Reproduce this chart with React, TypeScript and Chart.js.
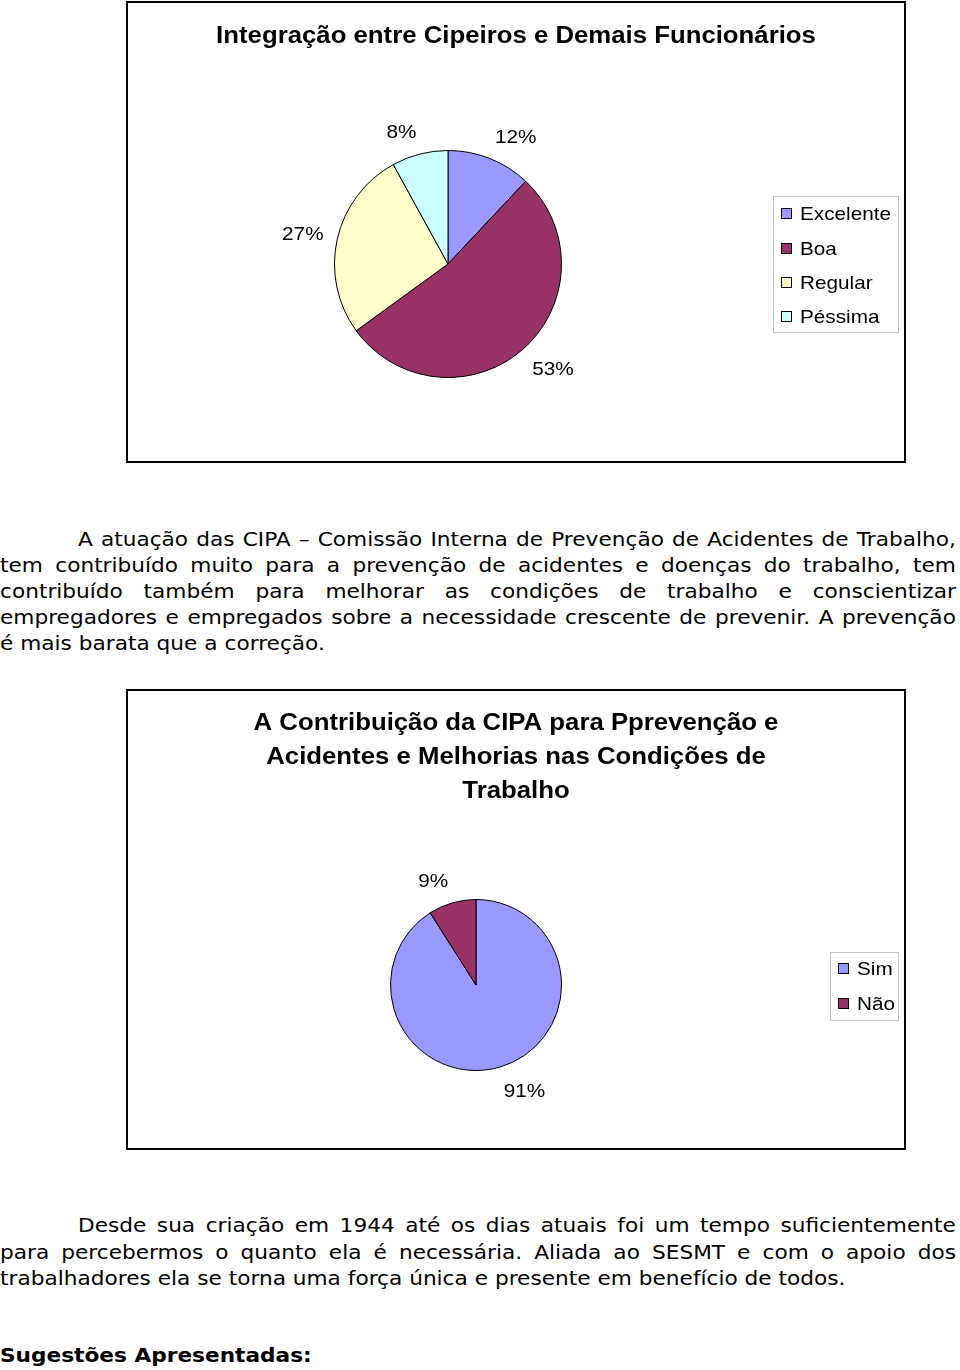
import React, { useEffect, useRef } from "react";
import { Chart, registerables } from "chart.js";

Chart.register(...registerables);

// ---------- data ----------
const chart1Title = ["Integração entre Cipeiros e Demais Funcionários"];
const chart1Labels = ["Excelente", "Boa", "Regular", "Péssima"];
const chart1Values = [12, 53, 27, 8];
const chart1Colors = ["#9999FF", "#993366", "#FFFFCC", "#CCFFFF"];

const chart2Title = [
  "A Contribuição da CIPA para Pprevenção e",
  "Acidentes e Melhorias nas Condições de",
  "Trabalho",
];
const chart2Labels = ["Sim", "Não"];
const chart2Values = [91, 9];
const chart2Colors = ["#9999FF", "#993366"];

const paragraph1 = [
  "A atuação das CIPA – Comissão Interna de Prevenção de Acidentes de Trabalho,",
  "tem contribuído muito para a prevenção de acidentes e doenças do trabalho, tem",
  "contribuído também para melhorar as condições de trabalho e conscientizar",
  "empregadores e empregados sobre a necessidade crescente de prevenir. A prevenção",
  "é mais barata que a correção.",
];
const paragraph2 = [
  "Desde sua criação em 1944 até os dias atuais foi um tempo suficientemente",
  "para percebermos o quanto ela é necessária. Aliada ao SESMT e com o apoio dos",
  "trabalhadores ela se torna uma força única e presente em benefício de todos.",
];
const heading = "Sugestões Apresentadas:";

// ---------- styling ----------
const SX = 1.12; // horizontal stretch of chart texts
const TSX = 1.14; // horizontal stretch of body texts
const ARIAL = '"Liberation Sans", Arial, sans-serif';
const VERDANA = '"DejaVu Sans", Verdana, sans-serif';

function drawStretched(ctx: CanvasRenderingContext2D, text: string, x: number, y: number, align: CanvasTextAlign) {
  ctx.save();
  ctx.translate(x, y);
  ctx.scale(SX, 1);
  ctx.textAlign = align;
  ctx.textBaseline = "middle";
  ctx.fillText(text, 0, 0);
  ctx.restore();
}

type DecorCfg = {
  title: string[];
  titleY: number;
  titleGap: number;
  labelGap: number;
  legend: { x: number; y: number; w: number; h: number; rowY: number[]; boxX: number; textX: number };
};

const clamp1 = (v: number) => Math.max(-1, Math.min(1, v));

function makeDecor(cfg: DecorCfg) {
  return {
    id: "decor",
    afterDraw(chart: any) {
      const ctx: CanvasRenderingContext2D = chart.ctx;
      ctx.save();
      ctx.fillStyle = "#000";
      // title
      ctx.font = `bold 23px ${ARIAL}`;
      cfg.title.forEach((t, i) => drawStretched(ctx, t, chart.width / 2, cfg.titleY + i * cfg.titleGap, "center"));

      // percentage labels outside the slices
      const meta = chart.getDatasetMeta(0);
      const data: number[] = chart.data.datasets[0].data;
      const total = data.reduce((a, b) => a + b, 0);
      ctx.font = `18.5px ${ARIAL}`;
      meta.data.forEach((arc: any, i: number) => {
        const p = arc.getProps(["x", "y", "startAngle", "endAngle", "outerRadius"], true);
        const mid = (p.startAngle + p.endAngle) / 2;
        const txt = Math.round((data[i] / total) * 100) + "%";
        const w = ctx.measureText(txt).width * SX;
        const h = 19;
        const R = p.outerRadius + cfg.labelGap;
        const c = Math.cos(mid);
        const s = Math.sin(mid);
        const cx = p.x + c * R + (clamp1(c * 4) * w) / 2;
        const cy = p.y + s * R + (clamp1(s * 1.2) * h) / 2 + 1.5;
        drawStretched(ctx, txt, cx, cy, "center");
      });

      // legend
      const L = cfg.legend;
      ctx.strokeStyle = "#c4c4c4";
      ctx.lineWidth = 1;
      ctx.strokeRect(L.x + 0.5, L.y + 0.5, L.w, L.h);
      const colors: string[] = chart.data.datasets[0].backgroundColor;
      ctx.font = `18.5px ${ARIAL}`;
      chart.data.labels.forEach((lab: string, i: number) => {
        const y = L.rowY[i];
        ctx.fillStyle = colors[i];
        ctx.fillRect(L.boxX, y - 5, 11, 11);
        ctx.strokeStyle = "#000";
        ctx.strokeRect(L.boxX + 0.5, y - 5 + 0.5, 10, 10);
        ctx.fillStyle = "#000";
        drawStretched(ctx, lab, L.textX, y + 2, "left");
      });
      ctx.restore();
    },
  };
}

function PieBox(props: {
  top: number;
  height: number;
  labels: string[];
  values: number[];
  colors: string[];
  padding: { left: number; right: number; top: number; bottom: number };
  decor: DecorCfg;
}) {
  const ref = useRef<HTMLCanvasElement | null>(null);
  const W = 776;
  const H = props.height - 4;
  useEffect(() => {
    if (!ref.current) return;
    const chart = new Chart(ref.current, {
      type: "pie",
      data: {
        labels: props.labels,
        datasets: [
          {
            data: props.values,
            backgroundColor: props.colors,
            borderColor: "#000",
            borderWidth: 1,
          },
        ],
      },
      options: {
        responsive: false,
        animation: false,
        layout: { padding: props.padding },
        plugins: {
          legend: { display: false },
          title: { display: false },
          tooltip: { enabled: false },
        },
      },
      plugins: [makeDecor(props.decor)],
    });
    return () => chart.destroy();
  }, []);
  return (
    <div
      style={{
        position: "absolute",
        left: 126,
        top: props.top,
        width: 780,
        height: props.height,
        boxSizing: "border-box",
        border: "2px solid #000",
        background: "#fff",
      }}
    >
      <canvas ref={ref} width={W} height={H} style={{ display: "block", width: W, height: H }} />
    </div>
  );
}

function TextLine(props: { text: string; top: number; left: number; justify: boolean; bold?: boolean }) {
  const width = (956 - props.left) / TSX;
  const words = props.text.split(" ");
  const common: React.CSSProperties = {
    position: "absolute",
    top: props.top,
    left: props.left,
    width,
    height: 26,
    lineHeight: "26px",
    whiteSpace: "nowrap",
    transform: `scaleX(${TSX})`,
    transformOrigin: "left top",
    fontFamily: VERDANA,
    fontSize: 19,
    fontWeight: props.bold ? "bold" : "normal",
    color: "#000",
  };
  if (props.justify) {
    return (
      <div style={{ ...common, display: "flex", justifyContent: "space-between" }}>
        {words.map((w, i) => (
          <span key={i}>{w}</span>
        ))}
      </div>
    );
  }
  return <div style={common}>{props.text}</div>;
}

export default function App() {
  return (
    <div style={{ position: "absolute", left: 0, top: 0, width: 960, height: 1370, background: "#fff", overflow: "hidden" }}>
      <PieBox
        top={1}
        height={462}
        labels={chart1Labels}
        values={chart1Values}
        colors={chart1Colors}
        padding={{ left: 206, right: 342, top: 147, bottom: 83 }}
        decor={{
          title: chart1Title,
          titleY: 34,
          titleGap: 34,
          labelGap: 14,
          legend: { x: 645, y: 193, w: 125, h: 136, rowY: [210, 245, 279, 313], boxX: 653, textX: 672 },
        }}
      />
      {paragraph1.map((t, i) => (
        <TextLine key={"p1" + i} text={t} top={526 + i * 26} left={i === 0 ? 78 : 0} justify={i < paragraph1.length - 1} />
      ))}
      <PieBox
        top={689}
        height={461}
        labels={chart2Labels}
        values={chart2Values}
        colors={chart2Colors}
        padding={{ left: 262, right: 342, top: 208, bottom: 77 }}
        decor={{
          title: chart2Title,
          titleY: 33,
          titleGap: 34,
          labelGap: 14,
          legend: { x: 702, y: 261, w: 68, h: 68, rowY: [277, 312], boxX: 710, textX: 729 },
        }}
      />
      {paragraph2.map((t, i) => (
        <TextLine key={"p2" + i} text={t} top={1212 + i * 26.5} left={i === 0 ? 78 : 0} justify={i < paragraph2.length - 1} />
      ))}
      <TextLine text={heading} top={1342} left={0} justify={false} bold />
    </div>
  );
}
